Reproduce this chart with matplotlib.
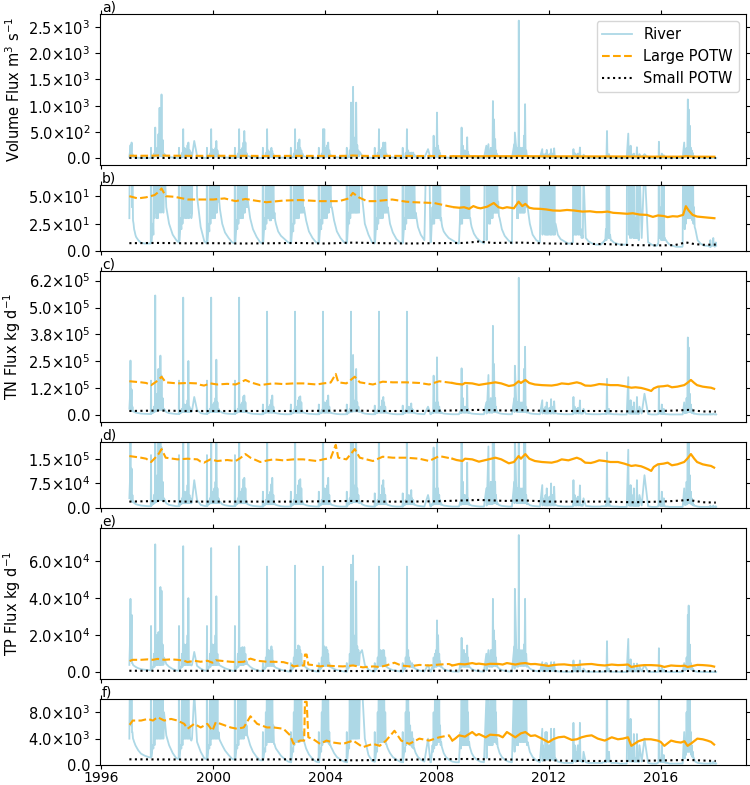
import numpy as np
import matplotlib
matplotlib.use('Agg')
import matplotlib.pyplot as plt
from matplotlib.ticker import FuncFormatter

# ---------------- data ----------------
years = list(range(1997, 2018))
# sampling positions within each year (fraction of year)
offsets = [0.00, 0.02, 0.04, 0.06, 0.08, 0.095, 0.11, 0.13, 0.15, 0.17,
           0.19, 0.215, 0.24, 0.32, 0.42, 0.55, 0.68, 0.765, 0.775, 0.785,
           0.84, 0.86, 0.88, 0.90, 0.915, 0.925, 0.935, 0.95, 0.97, 0.985]

# River volume flux, m3/s (one row per year, values at the offsets above)
river_flow = [
    [30, 120, 250, 60, 300, 40, 80, 28, 25, 20, 18, 15, 13, 10, 7.5, 7, 7, 7, 200, 8, 25, 15, 90, 30, 140, 585, 120, 35, 180, 30],
    [200, 30, 460, 35, 960, 40, 250, 35, 1215, 40, 350, 35, 90, 40, 25, 15, 10, 8, 200, 9, 30, 20, 100, 25, 150, 555, 130, 30, 200, 35],
    [180, 30, 150, 30, 250, 35, 300, 30, 160, 35, 120, 30, 35, 330, 50, 22, 9, 7, 200, 8, 25, 18, 90, 25, 150, 555, 130, 30, 170, 30],
    [160, 30, 120, 30, 200, 35, 330, 35, 150, 45, 70, 45, 38, 25, 17, 12, 8, 7, 200, 8, 28, 20, 90, 25, 160, 555, 120, 30, 160, 30],
    [150, 30, 200, 30, 300, 35, 520, 35, 300, 40, 100, 40, 45, 30, 20, 13, 8, 7, 200, 8, 30, 20, 100, 25, 150, 555, 120, 30, 150, 30],
    [120, 28, 110, 28, 200, 30, 140, 30, 80, 30, 35, 28, 25, 18, 14, 11, 8, 7, 200, 8, 25, 18, 90, 25, 140, 555, 130, 30, 150, 30],
    [150, 30, 300, 30, 360, 35, 200, 35, 150, 35, 90, 35, 40, 28, 18, 12, 8, 7, 200, 8, 28, 20, 90, 25, 150, 555, 150, 30, 555, 30],
    [150, 30, 200, 30, 250, 35, 300, 35, 150, 40, 70, 40, 40, 28, 18, 12, 8, 7, 200, 8, 35, 25, 150, 30, 300, 1060, 300, 35, 400, 35],
    [1360, 35, 300, 35, 400, 35, 1060, 35, 250, 35, 150, 35, 120, 50, 25, 15, 8, 7, 200, 8, 30, 20, 100, 25, 150, 555, 120, 30, 160, 30],
    [150, 30, 200, 30, 300, 35, 200, 35, 300, 35, 90, 35, 40, 25, 17, 11, 8, 7, 200, 8, 30, 20, 100, 25, 150, 555, 130, 30, 150, 30],
    [110, 30, 100, 30, 110, 30, 90, 30, 110, 30, 70, 30, 35, 22, 15, 10, 175, 8, 8, 9, 40, 25, 430, 25, 150, 200, 120, 30, 150, 30],
    [870, 30, 240, 30, 150, 30, 100, 28, 30, 25, 22, 20, 18, 15, 12, 10, 8, 7, 7, 7, 40, 25, 585, 25, 150, 240, 120, 30, 150, 30],
    [150, 30, 120, 30, 400, 30, 120, 30, 60, 30, 30, 25, 22, 16, 12, 9, 7, 240, 10, 30, 270, 25, 100, 25, 150, 200, 120, 30, 200, 30],
    [1090, 35, 740, 35, 365, 35, 150, 35, 80, 35, 45, 32, 30, 20, 14, 10, 7, 270, 60, 490, 150, 30, 200, 30, 300, 2620, 365, 35, 200, 35],
    [150, 35, 200, 35, 150, 35, 430, 35, 1030, 40, 150, 40, 40, 25, 15, 10, 8, 175, 15, 80, 20, 15, 90, 15, 15, 160, 20, 15, 70, 15],
    [20, 80, 15, 15, 175, 15, 20, 90, 15, 15, 190, 15, 25, 15, 11, 9, 7, 7, 7, 7, 8, 8, 175, 15, 20, 100, 20, 15, 70, 15],
    [15, 80, 90, 15, 15, 60, 205, 15, 20, 12, 15, 12, 70, 12, 9, 7, 6, 6, 6, 6, 6, 6, 7, 7, 7, 8, 8, 8, 9, 9],
    [10, 10, 20, 10, 520, 15, 40, 12, 80, 12, 15, 10, 10, 8, 7, 6, 6, 6, 6, 6, 470, 15, 30, 12, 15, 240, 20, 12, 80, 15],
    [20, 12, 90, 12, 15, 12, 30, 12, 210, 12, 20, 10, 80, 12, 80, 8, 6, 5, 5, 5, 5, 5, 6, 6, 8, 20, 315, 12, 40, 12],
    [20, 10, 90, 10, 15, 10, 60, 10, 12, 10, 10, 9, 8, 6, 5, 4, 4, 4, 4, 5, 300, 20, 100, 25, 150, 200, 150, 30, 1120, 30],
    [930, 30, 620, 30, 200, 30, 150, 28, 100, 25, 40, 22, 20, 10, 7, 5, 5, 4, 10, 4, 5, 5, 12, 5, 5, 5, 4, 5, 8, 5],
]

# River TN flux, thousand kg/d
river_tn_k = [
    [30, 80, 254, 25, 120, 20, 40, 18, 20, 16, 15, 13, 12, 10, 8, 7, 6, 6, 161, 7, 15, 12, 40, 15, 60, 556, 50, 18, 80, 20],
    [100, 25, 215, 25, 120, 25, 277, 25, 184, 25, 80, 20, 30, 15, 10, 8, 6, 6, 161, 6, 15, 12, 30, 15, 50, 546, 40, 15, 50, 15],
    [40, 15, 50, 15, 70, 15, 252, 15, 40, 15, 30, 15, 20, 85, 25, 10, 7, 6, 161, 6, 15, 12, 30, 15, 50, 546, 40, 15, 50, 15],
    [40, 15, 60, 15, 80, 15, 258, 15, 60, 15, 30, 15, 20, 12, 9, 7, 6, 6, 161, 6, 15, 12, 30, 15, 50, 546, 40, 15, 50, 15],
    [40, 15, 60, 15, 88, 15, 92, 15, 60, 15, 20, 13, 12, 9, 7, 6, 5, 5, 50, 5, 12, 10, 25, 12, 40, 481, 35, 12, 40, 12],
    [30, 12, 50, 12, 73, 12, 92, 12, 40, 12, 15, 11, 10, 8, 6, 5, 5, 5, 50, 5, 12, 10, 25, 12, 40, 481, 35, 12, 40, 12],
    [40, 12, 70, 12, 85, 12, 88, 12, 60, 12, 20, 12, 12, 9, 7, 6, 5, 5, 50, 5, 12, 10, 25, 12, 40, 481, 40, 12, 60, 12],
    [40, 12, 60, 12, 70, 12, 92, 12, 40, 12, 15, 11, 10, 8, 6, 5, 5, 5, 50, 5, 15, 12, 30, 15, 60, 481, 60, 15, 80, 18],
    [280, 18, 60, 18, 70, 18, 215, 18, 60, 18, 40, 15, 20, 12, 8, 6, 5, 5, 45, 5, 12, 10, 25, 12, 40, 481, 35, 12, 40, 12],
    [40, 12, 70, 12, 85, 12, 60, 12, 40, 12, 15, 11, 10, 8, 6, 5, 5, 5, 45, 5, 12, 10, 25, 12, 40, 481, 35, 12, 40, 12],
    [30, 12, 40, 12, 55, 12, 30, 12, 25, 11, 12, 10, 9, 7, 6, 5, 40, 5, 5, 5, 15, 10, 184, 12, 30, 60, 30, 12, 40, 12],
    [269, 12, 60, 12, 40, 12, 25, 11, 15, 10, 10, 9, 8, 7, 6, 5, 5, 5, 5, 5, 20, 10, 218, 12, 40, 80, 30, 12, 40, 12],
    [40, 12, 30, 12, 138, 12, 30, 11, 15, 10, 10, 9, 8, 7, 6, 5, 5, 60, 8, 15, 187, 12, 40, 12, 50, 80, 40, 12, 60, 12],
    [415, 15, 238, 15, 80, 15, 40, 13, 20, 12, 12, 10, 9, 7, 6, 5, 5, 80, 15, 230, 40, 15, 60, 15, 80, 638, 70, 15, 60, 15],
    [40, 15, 60, 15, 40, 15, 215, 15, 318, 15, 40, 12, 15, 9, 7, 6, 5, 70, 8, 30, 10, 8, 40, 8, 8, 60, 10, 8, 30, 8],
    [10, 35, 8, 8, 75, 8, 10, 40, 8, 8, 65, 8, 10, 7, 6, 5, 5, 5, 5, 5, 5, 5, 85, 8, 10, 40, 10, 8, 30, 8],
    [8, 30, 35, 8, 8, 25, 69, 8, 10, 7, 8, 7, 30, 7, 6, 5, 5, 5, 5, 5, 5, 5, 6, 6, 6, 6, 6, 6, 6, 6],
    [6, 6, 10, 6, 169, 8, 15, 7, 30, 7, 8, 6, 6, 5, 5, 4, 4, 4, 4, 4, 177, 8, 15, 7, 8, 70, 10, 7, 40, 8],
    [10, 7, 60, 7, 8, 7, 15, 7, 85, 7, 10, 6, 40, 8, 100, 6, 4, 4, 4, 4, 4, 4, 5, 5, 6, 15, 131, 8, 20, 8],
    [10, 6, 50, 6, 8, 6, 30, 6, 6, 5, 5, 5, 5, 4, 4, 4, 4, 4, 4, 4, 60, 10, 40, 10, 60, 80, 60, 12, 361, 15],
    [315, 15, 100, 15, 50, 12, 30, 10, 20, 8, 10, 7, 7, 5, 4, 4, 4, 4, 8, 4, 4, 4, 8, 4, 4, 4, 4, 4, 6, 4],
]

# River TP flux, thousand kg/d
river_tp_k = [
    [4, 15, 39.6, 6, 31, 5, 5, 4, 3.8, 3.5, 3.3, 3, 2.8, 2.2, 1.7, 1.4, 1.2, 1.1, 25, 1.2, 3, 2.5, 10, 3, 15, 69, 12, 4, 20, 4],
    [15, 4, 21.7, 4, 15, 4, 46, 4, 44, 4, 15, 4, 8, 4.5, 3, 1.8, 1.0, 0.9, 25, 0.9, 3, 2.5, 10, 3, 15, 68, 12, 4, 15, 4],
    [12, 4, 15, 4, 20, 4, 40, 4, 6, 4, 4, 3.7, 4, 11, 3.5, 2.0, 1.0, 0.9, 25, 0.9, 3, 2.5, 10, 3, 15, 67, 12, 4, 15, 4],
    [10, 4, 15, 4, 20, 4, 41, 4, 10, 4, 5, 4, 3.7, 3, 2.2, 1.5, 0.9, 0.8, 25, 0.8, 3, 2.5, 10, 3, 15, 68, 12, 4, 13, 4],
    [12, 4, 13.6, 4, 12, 4, 13.6, 4.5, 10, 4.5, 6, 4.5, 4.2, 3, 2, 1.2, 0.7, 0.7, 5, 0.7, 2.5, 2, 8, 3, 12, 57, 10, 3.5, 12, 3.5],
    [10, 3.5, 12, 3.5, 14, 3.5, 12, 3.5, 6, 3.2, 3.2, 2.8, 2.5, 2, 1.4, 0.9, 0.5, 0.4, 5, 0.4, 2.5, 2, 8, 3, 12, 57.5, 10, 3.5, 12, 3.5],
    [12, 3.5, 14.5, 3.5, 14, 3.5, 12, 3.7, 10, 3.7, 5, 3.7, 3.7, 2.5, 1.6, 0.9, 0.5, 0.4, 5, 0.4, 2.5, 2, 8, 3, 12, 57, 10, 3.5, 14, 3.5],
    [12, 3.5, 13.6, 3.5, 12, 3.5, 10, 3.2, 5, 3, 3, 2.7, 2.5, 1.8, 1.2, 0.8, 0.5, 0.4, 5, 0.4, 3, 2.5, 10, 3.5, 15, 58, 14, 4, 20, 4],
    [63, 4, 15, 4, 20, 4, 49, 4, 14, 4, 12, 4, 10, 12, 4, 1.5, 0.6, 0.5, 5, 0.5, 2.5, 2, 8, 3, 12, 57, 10, 3.5, 12, 3.5],
    [10, 3.5, 11.8, 3.5, 12, 3.5, 11.8, 3.5, 8, 3.2, 3.2, 2.8, 2.5, 1.8, 1.2, 0.8, 0.5, 0.4, 5, 0.4, 2.5, 2, 8, 3, 12, 57, 10, 3.5, 12, 3.5],
    [8, 3, 6, 3, 4, 2.8, 5, 2.6, 4, 2.5, 2.5, 2.1, 1.8, 1.2, 0.8, 0.5, 4, 0.4, 0.4, 0.4, 3, 2, 8, 2.5, 5, 10, 6, 3, 12, 3],
    [28, 3.5, 20, 3.5, 10, 3.5, 6, 3, 3.5, 2.8, 2.5, 2.1, 1.8, 1.2, 0.8, 0.5, 0.4, 0.4, 0.4, 0.4, 5, 2.5, 18.6, 3, 10, 12, 8, 3, 12, 3],
    [10, 3, 8, 3, 14.5, 3, 8, 3, 3.5, 2.8, 2.5, 2.1, 1.8, 1.2, 0.8, 0.5, 0.4, 10, 1, 3, 12, 3, 8, 3, 10, 12, 8, 3, 12, 3],
    [39.6, 3.5, 22.6, 3.5, 17, 3.5, 8, 3.2, 4, 2.8, 2.5, 2.1, 1.8, 1.2, 0.8, 0.5, 0.4, 14, 2, 45, 10, 3, 12, 3, 14, 74, 15, 3.5, 12, 3.5],
    [10, 3.5, 12, 3.5, 8, 3.5, 15, 3.5, 39.6, 3.5, 10, 3, 3.5, 2, 1.2, 0.7, 0.4, 5.5, 0.6, 3, 1, 0.8, 5, 0.8, 0.8, 5, 1, 0.8, 3, 0.8],
    [1, 3, 0.8, 0.8, 5.5, 0.8, 1, 3.5, 0.8, 0.7, 5.5, 0.7, 1, 0.5, 0.4, 0.3, 0.3, 0.3, 0.3, 0.3, 0.3, 0.3, 6.4, 0.6, 0.6, 3, 0.6, 0.5, 2, 0.5],
    [0.6, 2.5, 3, 0.6, 0.6, 2, 6.4, 0.6, 0.8, 0.5, 0.5, 0.4, 2, 0.4, 0.3, 0.3, 0.3, 0.3, 0.3, 0.3, 0.3, 0.3, 0.3, 0.3, 0.3, 0.4, 0.4, 0.4, 0.4, 0.4],
    [0.4, 0.4, 0.8, 0.4, 16.8, 0.6, 1, 0.5, 2, 0.5, 0.5, 0.4, 0.3, 0.3, 0.3, 0.2, 0.2, 0.2, 0.2, 0.2, 18, 0.6, 1.2, 0.5, 0.6, 7, 0.8, 0.5, 3, 0.5],
    [0.8, 0.5, 4.7, 0.5, 0.6, 0.5, 1, 0.5, 4.7, 0.5, 0.6, 0.4, 3, 0.5, 4, 0.3, 0.2, 0.2, 0.2, 0.2, 0.2, 0.2, 0.3, 0.3, 0.4, 1, 13, 0.5, 1, 0.5],
    [0.8, 0.4, 3, 0.4, 0.5, 0.4, 1.5, 0.4, 0.4, 0.3, 0.3, 0.3, 0.3, 0.2, 0.2, 0.2, 0.2, 0.2, 0.2, 0.2, 5, 1, 3, 1.5, 6, 8, 6, 2, 31, 2],
    [36, 2, 15, 2, 5, 1.5, 3, 1.2, 2, 1, 1, 0.7, 0.5, 0.3, 0.25, 0.2, 0.2, 0.2, 0.5, 0.2, 0.2, 0.2, 0.5, 0.2, 0.2, 0.2, 0.2, 0.2, 0.3, 0.2],
]

# Large POTW
large_flow_t = [1997.0, 1997.3, 1997.6, 1997.9, 1998.05, 1998.15, 1998.3, 1998.6, 1999.1, 1999.6,
                2000.0, 2000.4, 2000.8, 2001.15, 2001.5, 2001.9, 2002.5, 2003.1, 2003.8, 2004.5,
                2004.85, 2004.99, 2005.2, 2005.5, 2005.8, 2006.4, 2006.9, 2007.2, 2007.9, 2008.4,
                2008.6, 2008.8, 2008.97, 2009.15, 2009.3, 2009.45, 2009.56, 2009.8, 2010.03, 2010.2,
                2010.35, 2010.5, 2010.75, 2010.92, 2011.05, 2011.16, 2011.3, 2011.46, 2011.7, 2011.9,
                2012.15, 2012.4, 2012.65, 2012.9, 2013.2, 2013.47, 2013.7, 2013.9, 2014.1, 2014.3,
                2014.55, 2014.8, 2015.0, 2015.25, 2015.5, 2015.72, 2015.9, 2016.1, 2016.25, 2016.43,
                2016.6, 2016.8, 2016.9, 2017.0, 2017.14, 2017.3, 2017.5, 2017.7, 2017.92]
large_flow = [50, 48, 49, 51, 54, 57, 50, 49.5, 47, 47,
              47, 48, 45.5, 47.5, 46, 44.5, 46, 46.5, 45.5, 45.5,
              48, 53, 49, 45.5, 45.5, 47, 45, 44.5, 43.8, 41,
              40, 39.5, 40, 38.5, 41, 39.5, 39, 40.5, 43.8, 40,
              39, 40, 39, 45, 41, 43, 39.5, 38.7, 38.5, 38,
              37, 36.8, 37.5, 37, 36, 36.3, 35.5, 35.5, 36, 34.9,
              34.5, 34, 34.5, 33.3, 33, 31.2, 32.5, 32, 31, 31.8,
              31.5, 33, 40.9, 37, 33, 31.5, 31, 30.5, 30]

large_tn_t = [1997.0, 1997.42, 1997.6, 1997.78, 1997.95, 1998.05, 1998.15, 1998.3, 1998.72, 1999.08,
              1999.43, 1999.55, 1999.67, 1999.9, 2000.14, 2000.5, 2000.8, 2000.97, 2001.15, 2001.33,
              2001.68, 2001.95, 2002.16, 2002.5, 2002.87, 2003.22, 2003.7, 2003.93, 2004.2, 2004.38,
              2004.47, 2004.76, 2005.06, 2005.24, 2005.71, 2006.06, 2006.42, 2006.9, 2007.37, 2007.72,
              2008.08, 2008.55, 2008.7, 2008.91, 2009.0, 2009.26, 2009.5, 2009.74, 2010.09, 2010.3,
              2010.57, 2010.75, 2010.92, 2011.0, 2011.16, 2011.3, 2011.5, 2011.75, 2012.1, 2012.3,
              2012.46, 2012.7, 2013.0, 2013.15, 2013.3, 2013.5, 2013.64, 2013.8, 2014.0, 2014.2,
              2014.47, 2014.7, 2014.95, 2015.1, 2015.3, 2015.42, 2015.55, 2015.66, 2015.75, 2015.9,
              2016.1, 2016.25, 2016.4, 2016.6, 2016.7, 2016.84, 2016.95, 2017.08, 2017.2, 2017.3,
              2017.5, 2017.67, 2017.8, 2017.91]
large_tn_k = [158, 153, 150, 140, 155, 165, 179, 153, 148, 150,
              148, 141, 138, 148, 143, 146, 143, 152, 164, 153,
              140, 145, 148, 145, 148, 148, 143, 148, 152, 192,
              153, 148, 179, 153, 143, 156, 153, 153, 150, 143,
              158, 150, 146, 143, 150, 148, 141, 146, 153, 148,
              136, 140, 158, 150, 164, 150, 143, 140, 138, 142,
              148, 145, 153, 148, 138, 137, 140, 145, 143, 140,
              140, 135, 128, 130, 127, 123, 118, 113, 125, 133,
              135, 138, 130, 133, 136, 140, 150, 164, 150, 140,
              133, 130, 128, 123]

large_tp_t = [1997.01, 1997.12, 1997.42, 1997.66, 1997.84, 1998.01, 1998.25, 1998.49, 1998.72, 1998.96,
              1999.08, 1999.32, 1999.55, 1999.79, 1999.97, 2000.09, 2000.26, 2000.62, 2000.85, 2001.09,
              2001.33, 2001.57, 2001.92, 2002.16, 2002.51, 2002.75, 2002.87, 2003.1, 2003.25, 2003.28,
              2003.34, 2003.4, 2003.58, 2003.82, 2004.05, 2004.29, 2004.64, 2005.0, 2005.35, 2005.71,
              2005.95, 2006.18, 2006.48, 2006.72, 2007.01, 2007.37, 2007.72, 2008.08, 2008.43, 2008.55,
              2008.65, 2008.79, 2009.0, 2009.26, 2009.4, 2009.5, 2009.74, 2009.9, 2010.21, 2010.35,
              2010.5, 2010.65, 2010.8, 2011.0, 2011.16, 2011.35, 2011.51, 2011.75, 2011.99, 2012.15,
              2012.34, 2012.55, 2012.82, 2013.0, 2013.17, 2013.35, 2013.53, 2013.75, 2014.0, 2014.25,
              2014.47, 2014.65, 2014.83, 2014.95, 2015.2, 2015.42, 2015.65, 2015.89, 2016.0, 2016.13,
              2016.25, 2016.37, 2016.55, 2016.72, 2016.85, 2016.96, 2017.1, 2017.31, 2017.5, 2017.67,
              2017.8, 2017.91]
large_tp_k = [6.1, 6.75, 6.75, 7.0, 6.75, 7.25, 6.75, 7.0, 6.75, 6.25,
              5.5, 6.25, 5.7, 6.25, 5.2, 6.5, 6.25, 5.7, 5.5, 5.7,
              7.4, 6.25, 5.7, 5.7, 5.5, 4.5, 3.2, 3.7, 3.7, 9.6,
              9.6, 4.2, 3.9, 3.2, 3.7, 3.4, 3.2, 3.7, 2.7, 3.2,
              2.9, 3.7, 5.2, 3.7, 3.2, 4.0, 3.7, 4.2, 4.5, 3.7,
              4.0, 4.5, 4.3, 5.0, 4.5, 4.7, 4.2, 4.6, 4.5, 4.2,
              5.0, 4.6, 4.2, 4.8, 5.0, 4.4, 4.5, 4.0, 3.45, 3.9,
              4.2, 4.3, 3.8, 3.9, 4.2, 4.4, 4.5, 4.0, 3.7, 4.2,
              3.9, 4.0, 4.2, 2.9, 3.6, 3.9, 3.9, 3.7, 3.5, 2.9,
              3.3, 3.7, 3.5, 3.4, 3.6, 2.9, 3.3, 4.0, 3.9, 3.7,
              3.5, 3.1]

# Small POTW
small_flow_t = [1997.0, 1998.0, 1999.0, 2000.0, 2001.0, 2002.0, 2003.0, 2004.0, 2005.0, 2006.0,
                2007.0, 2008.0, 2009.0, 2009.5, 2010.0, 2011.0, 2012.0, 2013.0, 2014.0, 2015.0,
                2016.0, 2016.5, 2016.9, 2017.2, 2017.5, 2017.97]
small_flow = [7.3, 7.5, 7.2, 7.3, 7.0, 7.2, 7.5, 7.0, 7.8, 7.3,
              7.0, 7.3, 7.5, 8.8, 7.5, 7.8, 7.0, 6.7, 6.5, 5.5,
              5.3, 5.5, 8.0, 6.5, 5.8, 6.0]
small_tn_t = [1997.0, 1998.1, 1999.0, 2000.0, 2001.0, 2002.0, 2003.0, 2004.0, 2005.0, 2006.0,
              2007.0, 2008.0, 2009.5, 2010.5, 2011.0, 2012.0, 2013.0, 2014.0, 2015.0, 2016.0,
              2016.5, 2017.0, 2017.5, 2017.97]
small_tn_k = [20, 22, 20, 20, 20, 20, 20, 21, 22, 20,
              20, 21, 25, 22, 24, 20, 20, 20, 18, 20,
              22, 25, 18, 17]
small_tp_t = [1997.0, 2000.0, 2003.0, 2005.0, 2007.0, 2009.0, 2011.0, 2013.0, 2015.0, 2017.0, 2017.97]
small_tp_k = [0.85, 0.8, 0.85, 0.7, 0.8, 0.9, 0.8, 0.6, 0.6, 0.75, 0.6]

year_ticks = [1996, 2000, 2004, 2008, 2012, 2016]
daily_from = 2008.6   # from here on the Large POTW record is daily (looks solid)

# ---------------- build series ----------------
for rows in (river_flow, river_tn_k, river_tp_k):
    assert len(rows) == len(years)
    assert all(len(r) == len(offsets) for r in rows), [len(r) for r in rows]
for a, b in ((large_flow_t, large_flow), (large_tn_t, large_tn_k), (large_tp_t, large_tp_k),
             (small_flow_t, small_flow), (small_tn_t, small_tn_k), (small_tp_t, small_tp_k)):
    assert len(a) == len(b), (len(a), len(b))

river_t = np.array([y + o for y in years for o in offsets])
flow_r = np.concatenate([np.array(r, float) for r in river_flow])
tn_r = np.concatenate([np.array(r, float) for r in river_tn_k]) * 1e3
tp_r = np.concatenate([np.array(r, float) for r in river_tp_k]) * 1e3


def pair(t, v, scale=1.0):
    t = np.asarray(t, float)
    v = np.asarray(v, float) * scale
    o = np.argsort(t, kind='stable')
    return t[o], v[o]


series = {
    'flow': (flow_r, pair(large_flow_t, large_flow), pair(small_flow_t, small_flow)),
    'tn': (tn_r, pair(large_tn_t, large_tn_k, 1e3), pair(small_tn_t, small_tn_k, 1e3)),
    'tp': (tp_r, pair(large_tp_t, large_tp_k, 1e3), pair(small_tp_t, small_tp_k, 1e3)),
}


def sci_fmt(v, pos):
    if abs(v) < 1e-12:
        return '0.0'
    m, e = f'{v:.1e}'.split('e')
    return f'{m}\u00d710$^{{{int(e)}}}$'


FS = 10.5
plt.rcParams['font.family'] = ['DejaVu Sans']
fig = plt.figure(figsize=(7.5, 7.85), dpi=100)

L, W = 100 / 750, 646 / 750
SHIFT = 0.8
panels = [
    (14.3, 166.0, 'flow', (-131, 2755), [0, 500, 1000, 1500, 2000, 2500], 'a)', 'Volume Flux m$^3$ s$^{-1}$'),
    (186.0, 252.0, 'flow', (0, 60), [0, 25, 50], 'b)', None),
    (271.7, 423.0, 'tn', (-32000, 670000), [0, 125000, 250000, 375000, 500000, 625000], 'c)', 'TN Flux kg d$^{-1}$'),
    (443.0, 509.0, 'tn', (0, 200000), [0, 75000, 150000], 'd)', None),
    (529.0, 680.0, 'tp', (-3700, 77700), [0, 20000, 40000, 60000], 'e)', 'TP Flux kg d$^{-1}$'),
    (700.0, 765.7, 'tp', (0, 10000), [0, 4000, 8000], 'f)', None),
]

for i, (top, bot, key, ylim, yt, lab, ylab) in enumerate(panels):
    top -= SHIFT
    bot -= SHIFT
    ax = fig.add_axes([L, 1 - bot / 785, W, (bot - top) / 785])
    riv, (lt, lv), (st, sv) = series[key]
    ax.plot(river_t, riv, color='lightblue', lw=1.3, label='River')
    early = lt <= daily_from + 1e-9
    late = lt >= lt[early][-1] - 1e-9
    ax.plot(lt[early], lv[early], color='orange', ls='--', lw=1.5, label='Large POTW')
    ax.plot(lt[late], lv[late], color='orange', ls='-', lw=1.6)
    ax.plot(st, sv, color='black', ls=':', lw=1.5, label='Small POTW')
    ax.set_xlim(1995.95, 2019.05)
    ax.set_ylim(*ylim)
    ax.set_yticks(yt)
    ax.yaxis.set_major_formatter(FuncFormatter(sci_fmt))
    ax.set_xticks(year_ticks)
    ax.set_xticklabels([str(y) for y in year_ticks])
    ax.tick_params(top=True, right=True, labelsize=FS, labelbottom=(i == len(panels) - 1))
    ax.tick_params(axis='x', pad=1.0, labelsize=10, length=3.1)
    ax.annotate(lab, xy=(0, 1), xycoords='axes fraction', xytext=(1.5, 1.6),
                textcoords='offset points', ha='left', va='baseline', fontsize=10)
    if ylab:
        ax.set_ylabel(ylab, fontsize=FS)
    if i == 0:
        ax.legend(loc='upper right', fontsize=FS)

fig.savefig('out.png', dpi=100)
